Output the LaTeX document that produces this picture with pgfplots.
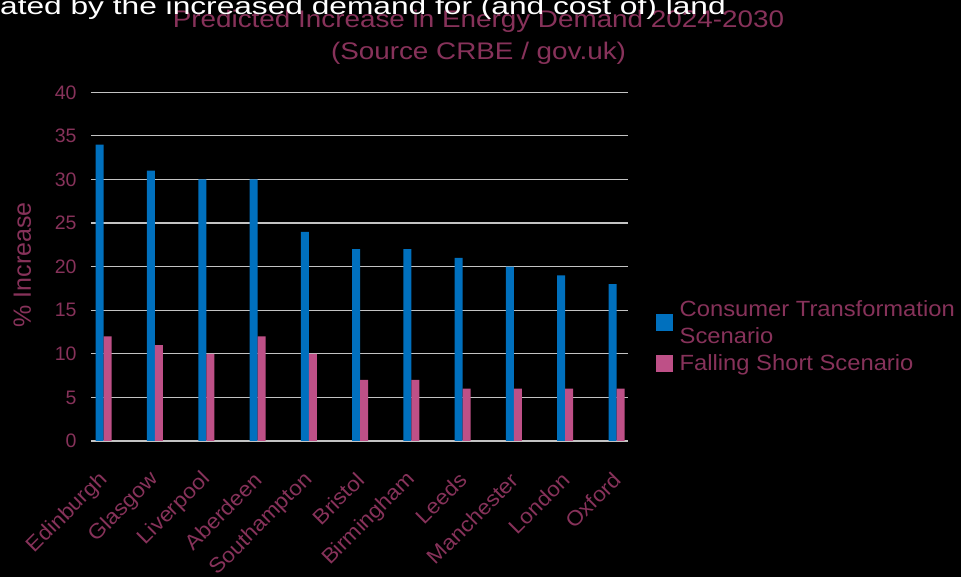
\documentclass[border=0pt]{standalone}
\usepackage{fontspec}
\setmainfont{Liberation Sans}
\newfontfamily\titlefont[FakeStretch=1.16]{Liberation Sans}
\newfontfamily\whitefont[FakeStretch=1.32]{Liberation Sans}
\newfontfamily\legfont[FakeStretch=1.08]{Liberation Sans}
\usepackage{pgfplots}
\pgfplotsset{compat=1.18}
\definecolor{txt}{RGB}{135,50,90}
\definecolor{cblue}{RGB}{0,112,190}
\definecolor{cpink}{RGB}{190,80,135}
\definecolor{gridc}{RGB}{195,195,195}
\begin{document}
\begin{tikzpicture}[x=1pt,y=1pt]
\useasboundingbox (0,0) rectangle (961,577);
\fill[black] (0,0) rectangle (961,577);
\begin{axis}[
  scale only axis, width=537.3pt, height=348.7pt,
  at={(91pt,136pt)}, anchor=south west,
  xmin=-0.248, xmax=10.23, ymin=0, ymax=40,
  ytick={0,5,...,40},
  xtick={0,...,10},
  xticklabels={Edinburgh,Glasgow,Liverpool,Aberdeen,Southampton,Bristol,Birmingham,Leeds,Manchester,London,Oxford},
  axis lines*=left,
  y axis line style={draw=none},
  x axis line style={draw=gridc, line width=1.2pt},
  major tick length=0pt,
  ymajorgrids, grid style={draw=gridc, line width=1.2pt},
  /pgf/number format/assume math mode=true,
  tick label style={text=txt, font=\fontsize{19.5}{22}\selectfont},
  y tick label style={anchor=east, xshift=-11pt},
  x tick label style={font=\legfont\fontsize{21}{24}\selectfont, xshift=3pt, yshift=-33pt, rotate=45, anchor=east},
  ylabel={\% Increase},
  ylabel style={font=\fontsize{25}{28}\selectfont, text=txt, at={(axis description cs:-0.128,0.505)}, rotate=0, anchor=center},
  ybar=0pt, bar width=8pt,
  legend cell align=left,
  legend style={draw=none, fill=none, text=txt, font=\legfont\fontsize{22}{27}\selectfont,
    at={(axis description cs:1.045,0.300)}, anchor=west, row sep=8pt, column sep=6pt,
    nodes={align=left, inner sep=1pt}},
  legend image code/.code={\fill[#1, draw=none] (0pt,-8.5pt) rectangle (17pt,8.5pt);},
]
\addplot[fill=cblue, draw=none] coordinates {(0,34) (1,31) (2,30) (3,30) (4,24) (5,22) (6,22) (7,21) (8,20) (9,19) (10,18)};
\addplot[fill=cpink, draw=none] coordinates {(0,12) (1,11) (2,10) (3,12) (4,10) (5,7) (6,7) (7,6) (8,6) (9,6) (10,6)};
\legend{Consumer Transformation\\Scenario, Falling Short Scenario}
\end{axis}
\node[anchor=base, text=txt, font=\titlefont\fontsize{24}{28}\selectfont, inner sep=0pt] at (478.5,549.7) {Predicted Increase in Energy Demand 2024-2030};
\node[anchor=base, text=txt, font=\titlefont\fontsize{24}{28}\selectfont, inner sep=0pt] at (478.5,517.7) {(Source CRBE / gov.uk)};
\node[anchor=base west, text=white, font=\whitefont\fontsize{24}{28}\selectfont, inner sep=0pt] at (0,562) {ated by the increased demand for (and cost of) land};
\end{tikzpicture}
\end{document}
